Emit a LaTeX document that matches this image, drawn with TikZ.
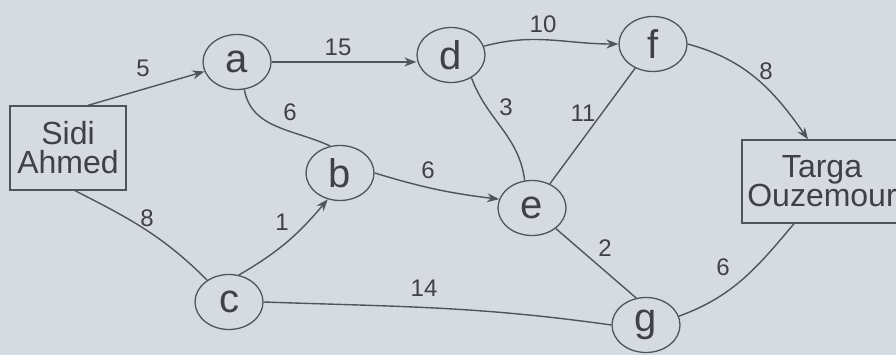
\documentclass[tikz,border=0pt]{standalone}
\usepackage{fontspec}
\setmainfont{Liberation Sans}
\usetikzlibrary{shapes.geometric,arrows.meta}
\definecolor{bg}{HTML}{D6DBE0}
\definecolor{ink}{HTML}{50555B}
\definecolor{txt}{HTML}{3E4147}
\begin{document}
\begin{tikzpicture}[x=1pt,y=1pt,
  vtx/.style={ellipse, draw=ink, line width=1.3pt, minimum width=68pt, minimum height=55pt, inner sep=0pt, text=txt, font=\fontsize{40}{40}\selectfont},
  place/.style={rectangle, draw=ink, line width=1.3pt, text=txt, align=center, inner sep=0pt, font=\fontsize{32}{29}\selectfont},
  edge/.style={draw=ink, line width=1.4pt},
  arr/.style={edge, -{Stealth[length=12pt,width=9pt]}},
  lab/.style={text=txt, font=\fontsize{24}{24}\selectfont, inner sep=0pt}
]
\clip (0,0) rectangle (896,355);
\fill[bg] (0,0) rectangle (896,355);

\node[place, minimum width=116pt, minimum height=84pt] (sidi) at (68,207) {Sidi\\Ahmed};
\node[place, minimum width=160pt, minimum height=83pt] (targa) at (822,173.5) {Targa\\Ouzemour};
\node[vtx] (a) at (237,293) {a};
\node[vtx] (d) at (451,300) {d};
\node[vtx] (f) at (653,311) {f};
\node[vtx] (b) at (340,182) {b};
\node[vtx] (e) at (532,147) {e};
\node[vtx] (c) at (229,53) {c};
\node[vtx] (g) at (646,30) {g};

\draw[arr] ([xshift=20pt]sidi.north) -- (a);
\draw[arr] (a.east) -- (a.east -| d.west);
\draw[arr] (d.15) to[out=15,in=180] (f.west);
\draw[arr] (f.east) to[out=-15,in=125] ([xshift=-14pt]targa.north);
\draw[edge] (a.-75) to[out=-80,in=155] (b.110);
\draw[arr] (b.east) to[bend right=5] (e.165);
\draw[edge] ([xshift=7pt]sidi.south) to[out=-27,in=135] (c.135);
\draw[arr] (c.70) to[out=30,in=-130] (b.-115);
\draw[edge] (c.east) to[out=-2,in=172] (g.west);
\draw[edge] (d.-48) to[out=-70,in=97] (e.105);
\draw[edge] (e) -- (f);
\draw[edge] (e) -- (g.110);
\draw[edge] (g.15) to[out=20,in=-130] ([xshift=-28pt]targa.south);

\node[lab] (l5) at (143,287) {5};
\node[lab] (l15) at (338,308) {15};
\node[lab] (l6ab) at (290,243) {6};
\node[lab] (l6be) at (428,185) {6};
\node[lab] (l10) at (543,331) {10};
\node[lab] (l8ft) at (766,284) {8};
\node[lab] (l3) at (506,248) {3};
\node[lab] (l11) at (583,242) {11};
\node[lab] (l8sc) at (147,137) {8};
\node[lab] (l1) at (282,133) {1};
\node[lab] (l14) at (424,67) {14};
\node[lab] (l2) at (605,107) {2};
\node[lab] (l6gt) at (723,88) {6};
\end{tikzpicture}
\end{document}
